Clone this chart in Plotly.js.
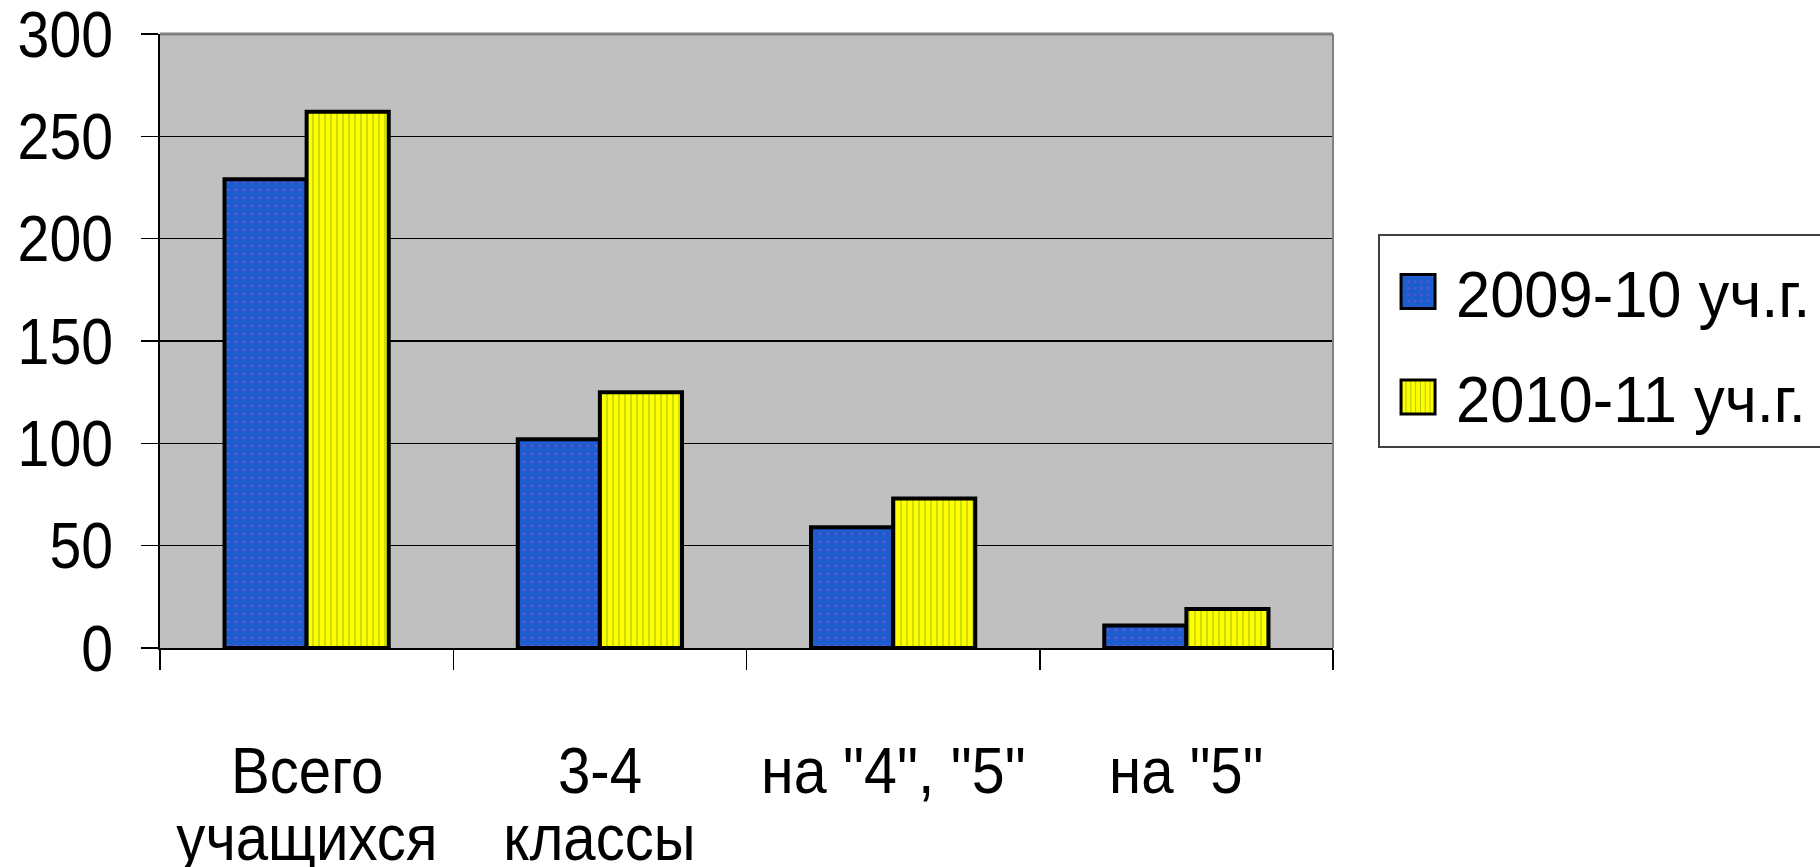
<!DOCTYPE html>
<html>
<head>
<meta charset="utf-8">
<script src="https://cdn.plot.ly/plotly-3.0.1.min.js"></script>
<style>html,body{margin:0;padding:0;background:#fff;}#chart{width:1820px;height:867px;}</style>
</head>
<body>
<div id="chart"></div>
<script>
// ---- data ----
const categories = ['Всего учащихся', '3-4 классы', 'на "4", "5"', 'на "5"'];
const labelLine1 = ['Всего', '3-4', 'на "4", "5"', 'на "5"'];
const labelLine2 = ['учащихся', 'классы', '', ''];
const seriesNames = ['2009-10 уч.г.', '2010-11 уч.г.'];
const values2009 = [229, 102, 59, 11];
const values2010 = [262, 125, 73, 19];
const yTickVals = [0, 50, 100, 150, 200, 250, 300];

// ---- style ----
const FONT = '"Liberation Sans", Arial, sans-serif';
const FS = 65;
const NARROW_TICK = 0.88;     // emulate a narrow (Arial Narrow-like) face
const NARROW_LABEL = 0.895;
const NARROW_LEGEND = 0.945;
const NARROW_WIDE = {'на "4", "5"': 0.91};

const traces = [
  {
    type: 'bar', x: categories, y: values2009, name: seriesNames[0],
    legendgroup: 'a',
    marker: {
      color: '#1c5ccc',
      line: {color: '#000', width: 4},
      pattern: {shape: '.', fgcolor: '#6a55d8', bgcolor: '#1c5ccc', size: 8, solidity: 0.1}
    },
    hoverinfo: 'skip'
  },
  {
    type: 'bar', x: categories, y: values2010, name: seriesNames[1],
    legendgroup: 'b',
    marker: {
      color: '#ffff00',
      line: {color: '#000', width: 4},
      pattern: {shape: '|', fgcolor: '#3f8a00', bgcolor: '#ffff00', size: 6, solidity: 0.14, fgopacity: 0.65}
    },
    hoverinfo: 'skip'
  }
];

const annotations = [];
categories.forEach((c, i) => {
  annotations.push({x: c, xref: 'x', y: -0.200, yref: 'paper', yanchor: 'middle',
    text: labelLine1[i], showarrow: false, font: {family: FONT, size: FS, color: '#000'}});
  if (labelLine2[i]) annotations.push({x: c, xref: 'x', y: -0.309, yref: 'paper', yanchor: 'middle',
    text: labelLine2[i], showarrow: false, font: {family: FONT, size: FS, color: '#000'}});
});

const layout = {
  width: 1820, height: 867,
  margin: {l: 160, r: 487, t: 34, b: 219, autoexpand: false},
  paper_bgcolor: '#ffffff',
  plot_bgcolor: '#c0c0c0',
  font: {family: FONT, size: FS, color: '#000'},
  barmode: 'group', bargap: 0.44, bargroupgap: 0,
  showlegend: true,
  legend: {
    x: 1.0384, xanchor: 'left', y: 0.674, yanchor: 'top',
    bgcolor: '#ffffff', bordercolor: '#404040', borderwidth: 2,
    font: {family: FONT, size: FS, color: '#000'},
    title: {text: ' ', font: {size: 5}},
    traceorder: 'grouped', tracegroupgap: 18, itemwidth: 66
  },
  xaxis: {
    type: 'category', range: [-0.5, 3.5], showticklabels: false,
    showline: true, linecolor: '#000', linewidth: 2,
    ticks: 'outside', tickson: 'boundaries', ticklen: 20, tickcolor: '#000', tickwidth: 1.5,
    showgrid: false, zeroline: false, fixedrange: true
  },
  yaxis: {
    range: [0, 300], tickvals: yTickVals, ticktext: yTickVals.map(String),
    showline: true, linecolor: '#000', linewidth: 2,
    ticks: 'outside', ticklen: 17, tickcolor: '#000', tickwidth: 1.5,
    ticklabelstandoff: 15, ticklabeloverflow: 'allow',
    tickfont: {family: FONT, size: FS, color: '#000'},
    showgrid: true, gridcolor: '#000', gridwidth: 1.5,
    zeroline: false, fixedrange: true
  },
  shapes: [
    {type: 'line', xref: 'paper', yref: 'paper', x0: 0, x1: 1, y0: 1, y1: 1, line: {color: '#808080', width: 3}, layer: 'above'},
    {type: 'line', xref: 'paper', yref: 'paper', x0: 1, x1: 1, y0: 0, y1: 1, line: {color: '#808080', width: 2}, layer: 'above'}
  ],
  annotations: annotations
};

function squeeze(t, f) {
  if (!t.textContent.trim()) return;
  var w = t.getComputedTextLength();
  t.setAttribute('textLength', (w * f).toFixed(1));
  t.setAttribute('lengthAdjust', 'spacingAndGlyphs');
}

Plotly.newPlot('chart', traces, layout, {staticPlot: true, displayModeBar: false}).then(function(gd) {
  // enlarge legend swatches to match the reference
  document.querySelectorAll('.legend .legendpoints path').forEach(function(p) {
    p.setAttribute('d', 'M17,17H-17V-17H17Z');
    p.style.strokeWidth = '3px';
  });
  // condense texts horizontally (narrow face look)
  document.querySelectorAll('.ytick text').forEach(function(t) { squeeze(t, NARROW_TICK); });
  document.querySelectorAll('.legendtext').forEach(function(t) { squeeze(t, NARROW_LEGEND); });
  document.querySelectorAll('.annotation-text').forEach(function(t) {
    var k = t.textContent.trim();
    squeeze(t, NARROW_WIDE[k] !== undefined ? NARROW_WIDE[k] : NARROW_LABEL);
  });
});
</script>
</body>
</html>
